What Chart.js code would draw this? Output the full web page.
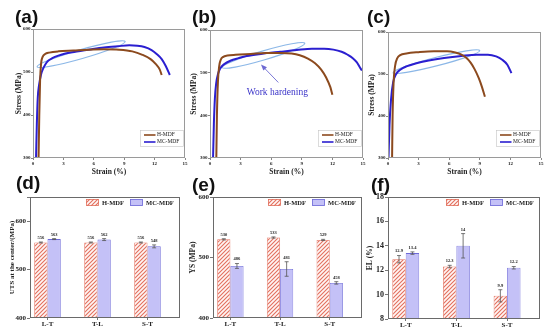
<!doctype html>
<html>
<head>
<meta charset="utf-8">
<title>Tensile properties H-MDF / MC-MDF</title>
<script src="https://cdn.jsdelivr.net/npm/chart.js@4.4.1/dist/chart.umd.min.js"></script>
<style>
  body { margin: 0; background: #fff; }
  #page { position: relative; width: 550px; height: 332px; overflow: hidden; background: #fff; }
  canvas { position: absolute; }
  .tag { position: absolute; font-family: "Liberation Sans", Arial, sans-serif; font-weight: bold; font-size: 19px; line-height: 19px; color: #111; }
</style>
</head>
<body>
<div id="page">
  <canvas id="ca"></canvas>
  <canvas id="cb"></canvas>
  <canvas id="cc"></canvas>
  <canvas id="cd"></canvas>
  <canvas id="ce"></canvas>
  <canvas id="cf"></canvas>
  <div class="tag" style="left:15px;top:7px">(a)</div>
  <div class="tag" style="left:192px;top:7px">(b)</div>
  <div class="tag" style="left:367px;top:7px">(c)</div>
  <div class="tag" style="left:16px;top:173px">(d)</div>
  <div class="tag" style="left:192px;top:175px">(e)</div>
  <div class="tag" style="left:371px;top:175px">(f)</div>
</div>
<script>
// ---- data ----
var seriesNames = ['H-MDF', 'MC-MDF'];

// stress-strain curves, [strain %, stress MPa]
var curveA_H = [[0.55,300],[0.62,400],[0.7,480],[0.8,520],[0.95,535],[1.2,542],[1.6,545],[2.5,548],[4,550],[5.5,552],[7,553],[8.5,552],[9.8,548],[10.8,540],[11.6,530],[12.1,519],[12.5,506],[12.7,493]];
var curveA_MC = [[0.3,300],[0.38,380],[0.47,440],[0.6,470],[0.8,495],[1.0,508],[1.2,517],[1.5,526],[1.9,532],[2.5,538],[3.2,543],[4.5,548],[5.8,553],[7,557],[8.4,560],[9.5,562],[10.3,561],[11,558],[11.7,551],[12.2,542],[12.7,530],[13.1,514],[13.5,493]];
var curveB_H = [[0.62,300],[0.68,400],[0.78,480],[0.9,515],[1.05,530],[1.3,537],[1.7,540],[2.5,542],[4,544],[5.5,546],[7,546],[8,545],[8.8,541],[9.6,533],[10.3,522],[10.9,507],[11.4,488],[11.8,466],[12,448]];
var curveB_MC = [[0.3,300],[0.38,380],[0.48,440],[0.6,474],[0.8,498],[1.0,510],[1.4,520],[2.0,528],[2.8,534],[3.6,539],[5,544],[6.9,549],[8.5,553],[10,556],[11.2,556],[12.1,554],[12.9,549],[13.5,542],[14,534],[14.4,524],[14.7,512],[14.9,505]];
var curveC_H = [[0.4,300],[0.45,400],[0.55,480],[0.7,520],[0.9,537],[1.2,545],[1.8,549],[3,552],[4.5,554],[5.8,554],[6.6,551],[7.2,546],[7.7,538],[8.1,527],[8.5,511],[8.9,490],[9.2,470],[9.5,446]];
var curveC_MC = [[0.05,300],[0.15,380],[0.3,440],[0.5,480],[0.8,500],[1.2,510],[1.8,518],[2.7,525],[4,532],[5.5,538],[7.2,543],[8.7,546],[9.8,546],[10.6,542],[11.2,534],[11.7,522],[12.1,502]];

// bar panels
var orientations = ['L-T', 'T-L', 'S-T'];
var utsH = [556, 556, 556];
var utsMC = [563, 562, 548];
var utsHErr = [1, 1, 1];
var utsMCErr = [1, 2, 3];
var ysH = [530, 533, 529];
var ysMC = [486, 481, 458];
var ysHErr = [1, 1, 1];
var ysMCErr = [4, 12, 2];
var elH = [12.9, 12.3, 9.9];
var elMC = [13.4, 14, 12.2];
var elHErr = [0.3, 0.1, 0.5];
var elMCErr = [0.1, 1.0, 0.1];

// ---- look ----
var SERIF = '"Liberation Serif", "Times New Roman", serif';
var brown = '#8c4a1e';
var blue = '#2b1fd0';
var mcFill = '#c4c1f7';
var mcLine = '#6e6ad8';
var hLine = '#e2705e';

function hatch() {
  var c = document.createElement('canvas');
  c.width = 4; c.height = 4;
  var g = c.getContext('2d');
  g.fillStyle = '#fff6f4';
  g.fillRect(0, 0, 4, 4);
  g.strokeStyle = hLine;
  g.lineWidth = 1.1;
  g.beginPath();
  g.moveTo(0, 4); g.lineTo(4, 0);
  g.moveTo(-1, 1); g.lineTo(1, -1);
  g.moveTo(3, 5); g.lineTo(5, 3);
  g.stroke();
  return g.createPattern(c, 'repeat');
}
var hatchFill = hatch();

// put a canvas so that its chart area lands on box
function place(id, box, m) {
  var c = document.getElementById(id);
  var w = box.r - box.l + m.l + m.r, h = box.b - box.t + m.t + m.b;
  c.width = w; c.height = h;
  c.style.left = (box.l - m.l) + 'px';
  c.style.top = (box.t - m.t) + 'px';
  c.style.width = w + 'px';
  c.style.height = h + 'px';
  return c;
}

var framePlugin = {
  id: 'frame',
  afterDatasetsDraw: function (chart, args, o) {
    var a = chart.chartArea, ctx = chart.ctx;
    ctx.save();
    ctx.strokeStyle = o.color || '#888';
    ctx.lineWidth = 1;
    ctx.strokeRect(a.left + 0.5, a.top + 0.5, a.right - a.left - 1, a.bottom - a.top - 1);
    ctx.restore();
  }
};

var decoPlugin = {
  id: 'deco',
  beforeDatasetsDraw: function (chart, args, o) {
    var ctx = chart.ctx, xs = chart.scales.x, ys = chart.scales.y;
    ctx.save();
    if (o.ellipse) {
      var e = o.ellipse;
      var x1 = xs.getPixelForValue(e.from[0]), y1 = ys.getPixelForValue(e.from[1]);
      var x2 = xs.getPixelForValue(e.to[0]), y2 = ys.getPixelForValue(e.to[1]);
      ctx.beginPath();
      ctx.ellipse((x1 + x2) / 2, (y1 + y2) / 2, Math.hypot(x2 - x1, y2 - y1) / 2, e.r, Math.atan2(y2 - y1, x2 - x1), 0, Math.PI * 2);
      ctx.strokeStyle = 'rgba(110,165,225,0.8)';
      ctx.lineWidth = 1.2;
      ctx.stroke();
    }
    if (o.arrow) {
      var tx = xs.getPixelForValue(o.arrow.from[0]), ty = ys.getPixelForValue(o.arrow.from[1]);
      var hx = xs.getPixelForValue(o.arrow.to[0]), hy = ys.getPixelForValue(o.arrow.to[1]);
      var ang = Math.atan2(hy - ty, hx - tx);
      ctx.strokeStyle = '#7b78d6';
      ctx.fillStyle = '#6d69d2';
      ctx.lineWidth = 1;
      ctx.beginPath(); ctx.moveTo(tx, ty); ctx.lineTo(hx - 4 * Math.cos(ang), hy - 4 * Math.sin(ang)); ctx.stroke();
      ctx.beginPath();
      ctx.moveTo(hx, hy);
      ctx.lineTo(hx - 6 * Math.cos(ang) + 2.5 * Math.sin(ang), hy - 6 * Math.sin(ang) - 2.5 * Math.cos(ang));
      ctx.lineTo(hx - 6 * Math.cos(ang) - 2.5 * Math.sin(ang), hy - 6 * Math.sin(ang) + 2.5 * Math.cos(ang));
      ctx.closePath(); ctx.fill();
    }
    if (o.note) {
      ctx.fillStyle = '#3a33c8';
      ctx.font = '9.5px ' + SERIF;
      ctx.textAlign = 'center';
      ctx.textBaseline = 'middle';
      ctx.fillText(o.note.text, xs.getPixelForValue(o.note.at[0]), ys.getPixelForValue(o.note.at[1]));
    }
    ctx.restore();
  }
};

var lineKeyPlugin = {
  id: 'lineKey',
  afterDatasetsDraw: function (chart) {
    var a = chart.chartArea, ctx = chart.ctx;
    ctx.save();
    ctx.strokeStyle = '#c4c4c4';
    ctx.lineWidth = 0.6;
    ctx.strokeRect(a.right - 44.5, a.bottom - 27.5, 43, 16);
    ctx.font = '5.5px ' + SERIF;
    ctx.textBaseline = 'middle';
    ctx.fillStyle = '#222';
    chart.data.datasets.forEach(function (ds, i) {
      var y = a.bottom - 23 + i * 7;
      ctx.strokeStyle = ds.borderColor;
      ctx.lineWidth = 1.6;
      ctx.beginPath(); ctx.moveTo(a.right - 41, y); ctx.lineTo(a.right - 29.5, y); ctx.stroke();
      ctx.fillText(ds.label, a.right - 28, y);
    });
    ctx.restore();
  }
};

var swatchPlugin = {
  id: 'swatch',
  afterDatasetsDraw: function (chart) {
    var a = chart.chartArea, ctx = chart.ctx;
    var y = a.top + 2, h = 7, xs = [a.right - 94, a.right - 50];
    ctx.save();
    ctx.font = 'bold 6.5px ' + SERIF;
    ctx.textBaseline = 'middle';
    chart.data.datasets.forEach(function (ds, i) {
      ctx.fillStyle = ds.backgroundColor;
      ctx.fillRect(xs[i], y, 13, h);
      ctx.strokeStyle = ds.borderColor;
      ctx.lineWidth = 0.8;
      ctx.strokeRect(xs[i] + 0.5, y + 0.5, 12, h - 1);
      ctx.fillStyle = '#222';
      ctx.fillText(ds.label, xs[i] + 16, y + h / 2 + 0.5);
    });
    ctx.restore();
  }
};

// error bars + value labels on top of the bars
var barExtras = {
  id: 'barExtras',
  afterDatasetsDraw: function (chart) {
    var ctx = chart.ctx, ys = chart.scales.y;
    ctx.save();
    ctx.font = 'bold 4.5px ' + SERIF;
    ctx.textAlign = 'center';
    ctx.textBaseline = 'bottom';
    chart.data.datasets.forEach(function (ds, di) {
      var meta = chart.getDatasetMeta(di);
      meta.data.forEach(function (bar, i) {
        var v = ds.data[i].y, e = ds.err[i];
        var top = ys.getPixelForValue(v + e), bot = ys.getPixelForValue(v - e);
        ctx.strokeStyle = '#555';
        ctx.lineWidth = 0.8;
        ctx.beginPath();
        ctx.moveTo(bar.x, top); ctx.lineTo(bar.x, bot);
        ctx.moveTo(bar.x - 2, top); ctx.lineTo(bar.x + 2, top);
        ctx.moveTo(bar.x - 2, bot); ctx.lineTo(bar.x + 2, bot);
        ctx.stroke();
        ctx.fillStyle = '#222';
        ctx.fillText(String(v), bar.x, top - 2);
      });
    });
    ctx.restore();
  }
};

function curveSet(pts, name, color) {
  return {
    label: name,
    data: pts.map(function (p) { return { x: p[0], y: p[1] }; }),
    borderColor: color,
    backgroundColor: color,
    borderWidth: 2,
    pointRadius: 0,
    cubicInterpolationMode: 'monotone',
    fill: false
  };
}

var topM = { l: 30, t: 10, r: 8, b: 22 };
var botM = { l: 30, t: 8, r: 8, b: 14 };

function curveChart(id, box, setH, setMC, titleOff, deco) {
  var c = place(id, box, topM);
  return new Chart(c, {
    type: 'line',
    data: { datasets: [curveSet(setH, seriesNames[0], brown), curveSet(setMC, seriesNames[1], blue)] },
    options: {
      responsive: false, animation: false, devicePixelRatio: 1,
      layout: { padding: { left: 0, top: topM.t, right: topM.r, bottom: 0 } },
      plugins: { legend: { display: false }, tooltip: { enabled: false }, frame: { color: '#9a9a9a' }, deco: deco },
      scales: {
        x: {
          type: 'linear', min: 0, max: 15, offset: false,
          afterFit: function (s) { s.height = topM.b; },
          ticks: { stepSize: 3, autoSkip: false, maxRotation: 0, padding: 0.5, color: '#222', font: { family: SERIF, size: 5, weight: 'bold' } },
          grid: { drawOnChartArea: false, tickLength: 2, color: '#888' },
          border: { display: false },
          title: { display: true, text: 'Strain (%)', color: '#222', font: { family: SERIF, size: 7.5, weight: 'bold' }, padding: { top: 0, bottom: 3.5 } }
        },
        y: {
          min: 300, max: 600,
          afterFit: function (s) { s.width = topM.l; },
          ticks: { stepSize: 100, autoSkip: false, padding: 0.5, color: '#222', font: { family: SERIF, size: 5, weight: 'bold' } },
          grid: { drawOnChartArea: false, tickLength: 2, color: '#888' },
          border: { display: false },
          title: { display: true, text: 'Stress (MPa)', color: '#222', font: { family: SERIF, size: 7.5, weight: 'bold' }, padding: { top: topM.l - titleOff - 4.5, bottom: 0 } }
        }
      }
    },
    plugins: [decoPlugin, framePlugin, lineKeyPlugin]
  });
}

function barSet(vals, errs, name, fill, line) {
  return {
    label: name,
    data: vals.map(function (v, i) { return { x: i + 1, y: v }; }),
    err: errs,
    backgroundColor: fill,
    borderColor: line,
    borderWidth: 0.8,
    categoryPercentage: 0.53,
    barPercentage: 1
  };
}

function barChart(id, box, valsH, errH, valsMC, errMC, yr, title, titleOff, tickFont) {
  var c = place(id, box, botM);
  var lh = titleOff.size * 1.2 / 2;
  return new Chart(c, {
    type: 'bar',
    data: { datasets: [barSet(valsH, errH, seriesNames[0], hatchFill, hLine), barSet(valsMC, errMC, seriesNames[1], mcFill, mcLine)] },
    options: {
      responsive: false, animation: false, devicePixelRatio: 1,
      layout: { padding: { left: 0, top: botM.t, right: botM.r, bottom: 0 } },
      plugins: { legend: { display: false }, tooltip: { enabled: false }, frame: { color: '#6a6a6a' } },
      scales: {
        x: {
          type: 'linear', min: 0.65, max: 3.65, offset: false,
          afterFit: function (s) { s.height = botM.b; },
          afterBuildTicks: function (s) { s.ticks = orientations.map(function (o, i) { return { value: i + 1 }; }); },
          ticks: { includeBounds: false, autoSkip: false, maxRotation: 0, padding: 0, color: '#222', font: { family: SERIF, size: 7, weight: 'bold' },
            callback: function (v) { return orientations[v - 1]; } },
          grid: { drawOnChartArea: false, offset: false, tickLength: 2, color: '#777' },
          border: { display: false }
        },
        y: {
          min: yr.min, max: yr.max,
          afterFit: function (s) { s.width = botM.l; },
          ticks: { stepSize: yr.step, autoSkip: false, padding: 1, color: '#222', font: { family: SERIF, size: tickFont, weight: 'bold' },
            callback: function (v) { return v > yr.top ? '' : v; } },
          grid: { drawOnChartArea: false, tickLength: 3, color: '#777' },
          border: { display: false },
          title: { display: true, text: title, color: '#222', font: { family: SERIF, size: titleOff.size, weight: 'bold' }, padding: { top: botM.l - titleOff.off - lh, bottom: 0 } }
        }
      }
    },
    plugins: [framePlugin, barExtras, swatchPlugin]
  });
}

curveChart('ca', { l: 33, t: 29, r: 185, b: 158 }, curveA_H, curveA_MC, 14,
  { ellipse: { from: [0.4, 512], to: [9.1, 571], r: 4.5 } });
curveChart('cb', { l: 210, t: 30, r: 363, b: 158 }, curveB_H, curveB_MC, 16,
  { ellipse: { from: [1.2, 512], to: [9.3, 569], r: 4.5 },
    arrow: { from: [6.7, 477], to: [5.0, 519] },
    note: { text: 'Work hardening', at: [6.6, 454] } });
curveChart('cc', { l: 388, t: 32, r: 541, b: 158 }, curveC_H, curveC_MC, 16,
  { ellipse: { from: [0.5, 503], to: [9.0, 556], r: 4.2 } });

barChart('cd', { l: 30, t: 197, r: 180, b: 318 }, utsH, utsHErr, utsMC, utsMCErr,
  { min: 400, max: 650, step: 100, top: 600 }, 'UTS at the center/(MPa)', { off: 18, size: 7 }, 7);
barChart('ce', { l: 213, t: 197, r: 362, b: 318 }, ysH, ysHErr, ysMC, ysMCErr,
  { min: 400, max: 600, step: 100, top: 600 }, 'YS (MPa)', { off: 20, size: 7.5 }, 7);
barChart('cf', { l: 388, t: 197, r: 540, b: 319 }, elH, elHErr, elMC, elMCErr,
  { min: 8, max: 18, step: 2, top: 18 }, 'EL (%)', { off: 18, size: 7.5 }, 8);
</script>
</body>
</html>
